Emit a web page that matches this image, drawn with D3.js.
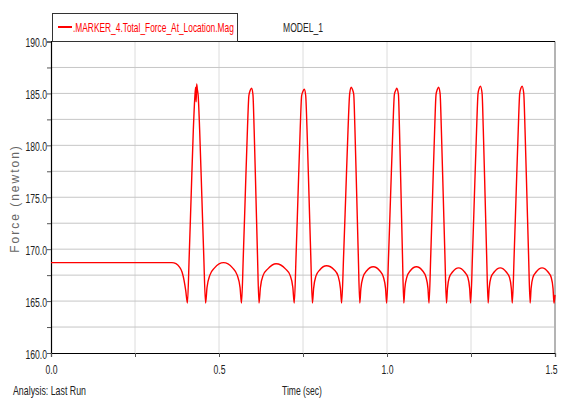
<!DOCTYPE html>
<html>
<head>
<meta charset="utf-8">
<script src="https://cdn.jsdelivr.net/npm/d3@7"></script>
<style>
  body { margin: 0; background: #fff; }
  svg { display: block; }
  text { font-family: "Liberation Sans", Arial, sans-serif; }
</style>
</head>
<body>
<svg id="chart" width="561" height="398"></svg>
<script>
// Marker force magnitude over time (seconds, newtons)
const timeSec = [
  0.000, 0.360, 0.372, 0.382, 0.390, 0.396, 0.401, 0.406,
  // stroke 1
  0.4115, 0.417, 0.4236, 0.428, 0.4305, 0.432, 0.4335, 0.4355, 0.438, 0.4424, 0.449, 0.4545, 0.460,
  0.4643, 0.4728, 0.4868, 0.5135, 0.5403, 0.5542, 0.5627, 0.567,
  // stroke 2
  0.5725, 0.578, 0.5846, 0.589, 0.593, 0.597, 0.601, 0.6046, 0.610, 0.6145, 0.619,
  0.6232, 0.6316, 0.6453, 0.6700, 0.6978, 0.7114, 0.7198, 0.724,
  // stroke 3
  0.7295, 0.735, 0.7416, 0.746, 0.750, 0.754, 0.758, 0.762, 0.768, 0.773, 0.778,
  0.7815, 0.7884, 0.7998, 0.8200, 0.8433, 0.8546, 0.8615, 0.865,
  // stroke 4
  0.871, 0.877, 0.884, 0.889, 0.8935, 0.897, 0.901, 0.9046, 0.910, 0.9145, 0.919,
  0.9222, 0.9286, 0.939, 0.959, 0.979, 0.9894, 0.9958, 0.999,
  // stroke 5
  1.0048, 1.0105, 1.0174, 1.022, 1.026, 1.029, 1.034, 1.0372, 1.042, 1.046, 1.050,
  1.053, 1.059, 1.0688, 1.0875, 1.1063, 1.116, 1.122, 1.125,
  // stroke 6
  1.1303, 1.1355, 1.1418, 1.146, 1.150, 1.1535, 1.158, 1.1618, 1.1675, 1.1723, 1.177,
  1.1799, 1.1856, 1.195, 1.213, 1.231, 1.2404, 1.2461, 1.249,
  // stroke 7
  1.2545, 1.260, 1.2666, 1.271, 1.2745, 1.278, 1.283, 1.2866, 1.292, 1.2965, 1.301,
  1.3039, 1.3096, 1.319, 1.337, 1.355, 1.3644, 1.3701, 1.373,
  // stroke 8
  1.3785, 1.384, 1.3906, 1.395, 1.3985, 1.402, 1.407, 1.4108, 1.4165, 1.4213, 1.426,
  1.4288, 1.4345, 1.4438, 1.4615, 1.4793, 1.4885, 1.4942, 1.497, 1.500
];

const forceN = [
  168.7, 168.7, 168.6, 168.3, 167.8, 167.0, 166.0, 164.8,
  169.5, 175.0, 181.5, 184.6, 185.6, 184.2, 185.9, 185.4, 184.8, 181.5, 175.0, 169.5, 164.8,
  166.3, 167.5, 168.2, 168.7, 168.2, 167.5, 166.3, 164.8,
  169.5, 175.0, 181.5, 184.8, 185.3, 185.5, 184.9, 181.5, 175.0, 169.5, 164.8,
  166.3, 167.5, 168.1, 168.6, 168.1, 167.5, 166.3, 164.8,
  169.5, 175.0, 181.5, 184.8, 185.2, 185.4, 184.8, 181.5, 175.0, 169.5, 164.8,
  166.2, 167.4, 168.0, 168.4, 168.0, 167.4, 166.2, 164.8,
  169.5, 175.0, 181.5, 185.0, 185.6, 185.4, 184.9, 181.5, 175.0, 169.5, 164.8,
  166.2, 167.3, 167.9, 168.3, 167.9, 167.3, 166.2, 164.8,
  169.5, 175.0, 181.5, 184.9, 185.3, 185.5, 184.9, 181.5, 175.0, 169.5, 164.8,
  166.2, 167.3, 167.9, 168.3, 167.9, 167.3, 166.2, 164.8,
  169.5, 175.0, 181.5, 184.9, 185.4, 185.6, 185.0, 181.5, 175.0, 169.5, 164.8,
  166.2, 167.3, 167.8, 168.2, 167.8, 167.3, 166.2, 164.8,
  169.5, 175.0, 181.5, 185.0, 185.5, 185.7, 185.0, 181.5, 175.0, 169.5, 164.8,
  166.2, 167.3, 167.8, 168.2, 167.8, 167.3, 166.2, 164.8,
  169.5, 175.0, 181.5, 185.0, 185.5, 185.7, 185.0, 181.5, 175.0, 169.5, 164.8,
  166.2, 167.3, 167.8, 168.2, 167.8, 167.3, 166.2, 164.8, 165.6
];

const yTickLabels = [160, 165, 170, 175, 180, 185, 190];
const xTickLabels = [0.0, 0.5, 1.0, 1.5];
const yGridValues = [162.5, 165, 167.5, 170, 172.5, 175, 177.5, 180, 182.5, 185, 187.5];
const xGridValues = [0.25, 0.5, 0.75, 1.0, 1.25];
const seriesName = ".MARKER_4.Total_Force_At_Location.Mag";

const svg = d3.select("#chart");
const plotLeft = 51, plotRight = 555, plotTop = 41.5, plotBottom = 353;
const FONT = 13.5;
const SQUEEZE = 0.64; // condensed look for the labels

const x = d3.scaleLinear().domain([0, 1.5]).range([plotLeft, plotRight]);
const y = d3.scaleLinear().domain([160, 190]).range([plotBottom, plotTop]);

// Places a condensed text: anchor point (px, py), squeezed horizontally.
function condensed(sel, px, py, anchor, sx) {
  sel.attr("x", 0).attr("y", 0)
    .attr("text-anchor", anchor)
    .attr("font-size", FONT)
    .attr("transform", `translate(${px},${py}) scale(${sx},1)`);
  return sel;
}
// Squeezes a text so that it spans the given width.
function fitWidth(sel, px, py, width) {
  sel.attr("x", 0).attr("y", 0).attr("font-size", FONT);
  const natural = sel.node().getComputedTextLength();
  sel.attr("transform", `translate(${px},${py}) scale(${width / natural},1)`);
  return sel;
}

// grid
svg.append("g").selectAll("line").data(xGridValues).join("line")
  .attr("x1", d => x(d)).attr("x2", d => x(d))
  .attr("y1", plotTop).attr("y2", plotBottom)
  .attr("stroke", "#dcdcdc").attr("stroke-width", 1);
svg.append("g").selectAll("line").data(yGridValues).join("line")
  .attr("x1", plotLeft).attr("x2", plotRight)
  .attr("y1", d => y(d)).attr("y2", d => y(d))
  .attr("stroke", "#c6c6c6").attr("stroke-width", 1);

// frame: right edge grey, top black
svg.append("line").attr("x1", plotRight).attr("x2", plotRight).attr("y1", plotTop).attr("y2", plotBottom)
  .attr("stroke", "#b4b4b4").attr("stroke-width", 2);
svg.append("line").attr("x1", plotLeft).attr("x2", plotRight).attr("y1", plotTop).attr("y2", plotTop)
  .attr("stroke", "#000").attr("stroke-width", 1.2);

// axes: minor ticks every 2.5 N / 0.25 s, labels on the major ones
const yAxis = d3.axisLeft(y)
  .tickValues(d3.range(160, 190.01, 2.5))
  .tickSize(4)
  .tickFormat(d => (yTickLabels.includes(d) ? d3.format(".1f")(d) : ""));
const gy = svg.append("g").attr("transform", `translate(${plotLeft},0)`).call(yAxis);

const xAxis = d3.axisBottom(x)
  .tickValues(d3.range(0, 1.501, 0.25))
  .tickSize(4)
  .tickFormat(d => (xTickLabels.some(v => Math.abs(v - d) < 1e-9) ? d3.format(".1f")(d) : ""));
const gx = svg.append("g").attr("transform", `translate(0,${plotBottom})`).call(xAxis);

[gx, gy].forEach(g => {
  g.select(".domain").attr("stroke", "#000").attr("stroke-width", 1.2);
  g.selectAll(".tick line").attr("stroke", "#555");
  g.selectAll(".tick text").attr("fill", "#222").attr("dy", null);
});
gy.selectAll(".tick text").each(function () {
  condensed(d3.select(this), -4, 5, "end", SQUEEZE);
});
gx.selectAll(".tick text").each(function (d) {
  const last = Math.abs(d - 1.5) < 1e-9;
  condensed(d3.select(this), last ? 2 : 0, 21, last ? "end" : "middle", SQUEEZE);
});

// series line
const pts = timeSec.map((t, i) => [t, forceN[i]]);
const line = d3.line().x(d => x(d[0])).y(d => y(d[1])).curve(d3.curveMonotoneX);
svg.append("path").datum(pts)
  .attr("d", line)
  .attr("fill", "none")
  .attr("stroke", "#ff0000")
  .attr("stroke-width", 1.4)
  .attr("stroke-linejoin", "round");

// legend
svg.append("rect").attr("x", 52.5).attr("y", 13.5).attr("width", 185).attr("height", 28)
  .attr("fill", "#fff").attr("stroke", "#333").attr("stroke-width", 1);
svg.append("line").attr("x1", 58).attr("x2", 72).attr("y1", 27).attr("y2", 27)
  .attr("stroke", "#ff0000").attr("stroke-width", 2);
fitWidth(svg.append("text").attr("fill", "#ff0000").text(seriesName), 73, 32, 161);

fitWidth(svg.append("text").attr("fill", "#222").text("MODEL_1"), 283, 32, 40);

// axis titles
svg.append("text")
  .attr("transform", `translate(19,${(145 + 252) / 2}) rotate(-90)`)
  .attr("text-anchor", "middle")
  .attr("font-size", 12).attr("letter-spacing", 2)
  .attr("fill", "#666")
  .text("Force (newton)");

fitWidth(svg.append("text").attr("fill", "#222").text("Time (sec)"), 282, 395, 40);
fitWidth(svg.append("text").attr("fill", "#222").text("Analysis:  Last Run"), 13, 395, 73);
</script>
</body>
</html>
